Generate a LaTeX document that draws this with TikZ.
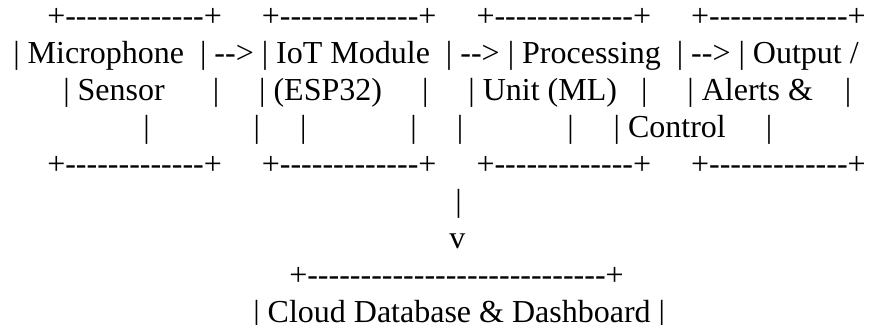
\documentclass[tikz,border=0pt]{standalone}
\usepackage{fontspec}
\setmainfont{Liberation Serif}[Ligatures=TeXOff]
\newcommand\gap[1]{\hspace*{#1\fontdimen2\font}}

\begin{document}
\begin{tikzpicture}[x=0.75pt,y=-0.75pt,
    asciirow/.style={anchor=base west,inner sep=0pt,font=\fontsize{24}{27.75}\selectfont}]
    % Canvas of the reference
    \useasboundingbox (0,0) rectangle (894,325);

    % Top row of boxes
    \node[asciirow] (rowA) at (47,26) {+-------------+\gap{5}+-------------+\gap{5}+-------------+\gap{5}+-------------+};
    \node[asciirow] (rowB) at (13,63) {| Microphone\gap{2}| --> | IoT Module\gap{2}| --> | Processing\gap{2}| --> | Output /};
    \node[asciirow] (rowC) at (63,100) {| Sensor\gap{6}|\gap{5}| (ESP32)\gap{5}|\gap{5}| Unit (ML)\gap{3}|\gap{5}| Alerts \&\gap{4}|};
    \node[asciirow] (rowD) at (143,137) {|\gap{13}|\gap{5}|\gap{13}|\gap{5}|\gap{13}|\gap{5}| Control\gap{5}|};
    \node[asciirow] (rowE) at (47,174) {+-------------+\gap{5}+-------------+\gap{5}+-------------+\gap{5}+-------------+};

    % Link down to the cloud
    \node[asciirow] (rowF) at (455,211) {|};
    \node[asciirow] (rowG) at (449,248) {v};

    % Cloud box
    \node[asciirow] (rowH) at (289,285) {+----------------------------+};
    \node[asciirow] (rowI) at (253,322) {| Cloud Database \& Dashboard |};
\end{tikzpicture}
\end{document}
